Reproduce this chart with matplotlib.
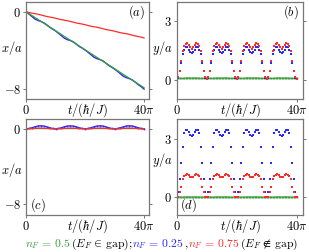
import numpy as np
import matplotlib
matplotlib.use('Agg')
import matplotlib.pyplot as plt

plt.rcParams['mathtext.fontset'] = 'cm'
plt.rcParams['font.family'] = ['DejaVu Serif']

# ---------------- data ----------------
# panels (a),(c): samples every pi, t = 0 .. 40 pi
t_a_steps = list(range(41))
x_green_a = [0, -0.2, -0.39, -0.59, -0.78, -0.98, -1.18, -1.37, -1.57, -1.76,
             -1.96, -2.16, -2.35, -2.55, -2.74, -2.94, -3.14, -3.33, -3.53, -3.72,
             -3.92, -4.12, -4.31, -4.51, -4.7, -4.9, -5.1, -5.29, -5.49, -5.68,
             -5.88, -6.08, -6.27, -6.47, -6.66, -6.86, -7.06, -7.25, -7.45, -7.64, -7.84]
x_blue_a = [0, -0.24, -0.49, -0.75, -0.9, -1.0, -1.14, -1.35, -1.6, -1.79,
            -1.98, -2.22, -2.47, -2.73, -2.88, -2.97, -3.1, -3.33, -3.58, -3.75,
            -3.95, -4.18, -4.43, -4.69, -4.84, -4.93, -5.06, -5.29, -5.54, -5.72,
            -5.92, -6.14, -6.4, -6.66, -6.8, -6.9, -7.03, -7.26, -7.52, -7.72, -7.98]
x_red_a = [0, -0.08, -0.15, -0.2, -0.26, -0.33, -0.41, -0.49, -0.55, -0.6,
           -0.67, -0.75, -0.82, -0.88, -0.93, -1.0, -1.08, -1.16, -1.22, -1.27,
           -1.34, -1.42, -1.5, -1.55, -1.6, -1.67, -1.75, -1.83, -1.89, -1.94,
           -2.01, -2.09, -2.17, -2.22, -2.27, -2.34, -2.42, -2.5, -2.56, -2.62, -2.7]

x_green_c = [0.02, 0.02, 0.02, 0.03, 0.03, 0.03, 0.03, 0.03, 0.02, 0.02,
             0.02, 0.02, 0.02, 0.03, 0.03, 0.03, 0.03, 0.03, 0.02, 0.02,
             0.02, 0.02, 0.02, 0.03, 0.03, 0.03, 0.03, 0.03, 0.02, 0.02,
             0.02, 0.02, 0.02, 0.03, 0.03, 0.03, 0.03, 0.03, 0.02, 0.02, 0.02]
x_blue_c = [0.0, 0.04, 0.12, 0.22, 0.3, 0.33, 0.3, 0.22, 0.12, 0.04,
            0.0, 0.04, 0.12, 0.22, 0.3, 0.32, 0.3, 0.22, 0.12, 0.04,
            0.0, 0.04, 0.12, 0.22, 0.3, 0.33, 0.3, 0.22, 0.12, 0.04,
            0.0, 0.04, 0.12, 0.22, 0.3, 0.33, 0.3, 0.22, 0.12, 0.04, 0.0]
x_red_c = [0.0, 0.01, 0.03, 0.05, 0.07, 0.08, 0.07, 0.05, 0.03, 0.01,
           0.0, 0.01, 0.03, 0.05, 0.07, 0.08, 0.07, 0.05, 0.03, 0.01,
           0.0, 0.01, 0.03, 0.05, 0.07, 0.08, 0.07, 0.05, 0.03, 0.01,
           0.0, 0.01, 0.03, 0.05, 0.07, 0.08, 0.07, 0.05, 0.03, 0.01, 0.0]

# panels (b),(d): samples every pi/2, t = 0 .. 40 pi
t_b_halfsteps = list(range(81))
y_green_b = [0.10, 0.09, 0.07, 0.06, 0.06, 0.07, 0.08, 0.09, 0.09, 0.08,
             0.08, 0.08, 0.09, 0.09, 0.08, 0.07, 0.06, 0.06, 0.07, 0.09,
             0.10, 0.09, 0.07, 0.06, 0.06, 0.07, 0.08, 0.09, 0.09, 0.08,
             0.08, 0.08, 0.09, 0.09, 0.08, 0.07, 0.06, 0.06, 0.07, 0.09,
             0.10, 0.09, 0.07, 0.06, 0.06, 0.07, 0.08, 0.09, 0.09, 0.08,
             0.08, 0.08, 0.09, 0.09, 0.08, 0.07, 0.06, 0.06, 0.07, 0.09,
             0.10, 0.09, 0.07, 0.06, 0.06, 0.07, 0.08, 0.09, 0.09, 0.08,
             0.08, 0.08, 0.09, 0.09, 0.08, 0.07, 0.06, 0.06, 0.07, 0.09, 0.10]
y_blue_b = [0.05, 0.10, 0.45, 0.88, 1.30, 1.55, 1.68, 1.70, 1.55, 1.42,
            1.36, 1.42, 1.55, 1.70, 1.68, 1.55, 1.30, 0.88, 0.45, 0.10,
            0.05, 0.10, 0.45, 0.88, 1.30, 1.55, 1.68, 1.70, 1.55, 1.42,
            1.36, 1.42, 1.55, 1.70, 1.68, 1.55, 1.30, 0.88, 0.45, 0.10,
            0.05, 0.10, 0.45, 0.88, 1.30, 1.55, 1.68, 1.70, 1.55, 1.42,
            1.36, 1.42, 1.55, 1.70, 1.68, 1.55, 1.30, 0.88, 0.45, 0.10,
            0.05, 0.10, 0.45, 0.88, 1.30, 1.55, 1.68, 1.70, 1.55, 1.42,
            1.36, 1.42, 1.55, 1.70, 1.68, 1.55, 1.30, 0.88, 0.45, 0.10, 0.05]
y_red_b = [0.05, 0.12, 0.46, 0.95, 1.45, 1.72, 1.86, 1.90, 1.80, 1.66,
           1.60, 1.66, 1.80, 1.90, 1.86, 1.72, 1.45, 0.95, 0.46, 0.12,
           0.05, 0.12, 0.46, 0.95, 1.45, 1.72, 1.86, 1.90, 1.80, 1.66,
           1.60, 1.66, 1.80, 1.90, 1.86, 1.72, 1.45, 0.95, 0.46, 0.12,
           0.05, 0.12, 0.46, 0.95, 1.45, 1.72, 1.86, 1.90, 1.80, 1.66,
           1.60, 1.66, 1.80, 1.90, 1.86, 1.72, 1.45, 0.95, 0.46, 0.12,
           0.05, 0.12, 0.46, 0.95, 1.45, 1.72, 1.86, 1.90, 1.80, 1.66,
           1.60, 1.66, 1.80, 1.90, 1.86, 1.72, 1.45, 0.95, 0.46, 0.12, 0.05]
y_green_d = [0.03, 0.02, 0.02, 0.01, 0.01, 0.02, 0.02, 0.03, 0.03, 0.02,
             0.02, 0.02, 0.03, 0.03, 0.02, 0.02, 0.01, 0.01, 0.02, 0.02,
             0.03, 0.02, 0.02, 0.01, 0.01, 0.02, 0.02, 0.03, 0.03, 0.02,
             0.02, 0.02, 0.03, 0.03, 0.02, 0.02, 0.01, 0.01, 0.02, 0.02,
             0.03, 0.02, 0.02, 0.01, 0.01, 0.02, 0.02, 0.03, 0.03, 0.02,
             0.02, 0.02, 0.03, 0.03, 0.02, 0.02, 0.01, 0.01, 0.02, 0.02,
             0.03, 0.02, 0.02, 0.01, 0.01, 0.02, 0.02, 0.03, 0.03, 0.02,
             0.02, 0.02, 0.03, 0.03, 0.02, 0.02, 0.01, 0.01, 0.02, 0.02, 0.03]
y_blue_d = [0.00, 0.26, 0.95, 1.75, 2.55, 3.28, 3.42, 3.45, 3.32, 3.20,
            3.15, 3.20, 3.32, 3.45, 3.42, 3.28, 2.55, 1.75, 0.95, 0.26,
            0.00, 0.26, 0.95, 1.75, 2.55, 3.28, 3.42, 3.45, 3.32, 3.20,
            3.15, 3.20, 3.32, 3.45, 3.42, 3.28, 2.55, 1.75, 0.95, 0.26,
            0.00, 0.26, 0.95, 1.75, 2.55, 3.28, 3.42, 3.45, 3.32, 3.20,
            3.15, 3.20, 3.32, 3.45, 3.42, 3.28, 2.55, 1.75, 0.95, 0.26,
            0.00, 0.26, 0.95, 1.75, 2.55, 3.28, 3.42, 3.45, 3.32, 3.20,
            3.15, 3.20, 3.32, 3.45, 3.42, 3.28, 2.55, 1.75, 0.95, 0.26, 0.00]
y_red_d = [0.00, 0.03, 0.26, 0.55, 0.94, 1.08, 1.15, 1.18, 1.12, 1.06,
           1.03, 1.06, 1.12, 1.18, 1.15, 1.08, 0.94, 0.55, 0.26, 0.03,
           0.00, 0.03, 0.26, 0.55, 0.94, 1.08, 1.15, 1.18, 1.12, 1.06,
           1.03, 1.06, 1.12, 1.18, 1.15, 1.08, 0.94, 0.55, 0.26, 0.03,
           0.00, 0.03, 0.26, 0.55, 0.94, 1.08, 1.15, 1.18, 1.12, 1.06,
           1.03, 1.06, 1.12, 1.18, 1.15, 1.08, 0.94, 0.55, 0.26, 0.03,
           0.00, 0.03, 0.26, 0.55, 0.94, 1.08, 1.15, 1.18, 1.12, 1.06,
           1.03, 1.06, 1.12, 1.18, 1.15, 1.08, 0.94, 0.55, 0.26, 0.03, 0.00]

xticks_labels = [r'$0$', r'$40\pi$']
yticks_ac = [0, -8]
yticks_ac_labels = [r'$0$', r'$-8$']
yticks_bd = [0, 3]
yticks_bd_labels = [r'$0$', r'$3$']

GREEN = '#3c9c3c'
BLUE = '#2828ff'
RED = '#ff2a2a'
FRAME = '#777777'

t_a = np.array(t_a_steps) * np.pi
t_b = np.array(t_b_halfsteps) * np.pi / 2

W, H = 309, 252
fig = plt.figure(figsize=(W / 100, H / 100), dpi=100)

def box(l, r, top, bot):
    return [l / W, 1 - bot / H, (r - l) / W, (bot - top) / H]

ax_a = fig.add_axes(box(26, 148.5, 2, 99))
ax_b = fig.add_axes(box(176.7, 303, 2, 99))
ax_c = fig.add_axes(box(26, 148.5, 119, 215))
ax_d = fig.add_axes(box(176.7, 303, 119, 215))

FS = 9

def style(ax, xmax, yticks, ylabels, ylim, ylab, ylab_y):
    ax.set_xlim(0, xmax)
    ax.set_ylim(*ylim)
    ax.set_xticks([0, 40 * np.pi])
    ax.set_xticklabels(xticks_labels, fontsize=FS)
    ax.set_yticks(yticks)
    ax.set_yticklabels(ylabels, fontsize=FS)
    ax.tick_params(direction='out', length=2.5, width=0.7, color=FRAME, pad=1.2,
                   right=True, top=False)
    for s in ax.spines.values():
        s.set_color(FRAME)
        s.set_linewidth(0.9)
    ax.text(-0.03, ylab_y, ylab, transform=ax.transAxes, ha='right', va='center',
            fontsize=FS)
    ax.text(0.5, -0.02, r'$t/(\hbar/J)$', transform=ax.transAxes, ha='center',
            va='top', fontsize=FS)

# (a)
ax_a.plot(t_a, x_red_a, color=RED, lw=0.9)
ax_a.plot(t_a, x_blue_a, color=BLUE, lw=1.0)
ax_a.plot(t_a, x_green_a, color=GREEN, lw=0.9)
style(ax_a, 41.5 * np.pi, yticks_ac, yticks_ac_labels, (-9, 1), r'$x/a$', 0.53)
ax_a.text(0.97, 0.9, r'$(a)$', transform=ax_a.transAxes, ha='right', va='center', fontsize=FS)

# (b)
ax_b.plot(t_b, y_green_b, color=GREEN, lw=0.6, marker='s', ms=1.3, mew=0)
ax_b.plot(t_b, y_blue_b, ls='none', color=BLUE, marker='s', ms=1.5, mew=0)
ax_b.plot(t_b, y_red_b, ls='none', color=RED, marker='s', ms=1.5, mew=0)
style(ax_b, 42 * np.pi, yticks_bd, yticks_bd_labels, (-1, 4), r'$y/a$', 0.53)
ax_b.text(0.97, 0.9, r'$(b)$', transform=ax_b.transAxes, ha='right', va='center', fontsize=FS)

# (c)
ax_c.plot(t_a, x_green_c, color=GREEN, lw=0.9)
ax_c.plot(t_a, x_blue_c, color=BLUE, lw=0.9, marker='s', ms=1.2, mew=0)
ax_c.plot(t_a, x_red_c, color=RED, lw=0.9)
style(ax_c, 41.5 * np.pi, yticks_ac, yticks_ac_labels, (-9.2, 1.05), r'$x/a$', 0.47)
ax_c.text(0.03, 0.1, r'$(c)$', transform=ax_c.transAxes, ha='left', va='center', fontsize=FS)

# (d)
ax_d.plot(t_b, y_green_d, color=GREEN, lw=0.6, marker='s', ms=1.3, mew=0)
ax_d.plot(t_b, y_blue_d, ls='none', color=BLUE, marker='s', ms=1.5, mew=0)
ax_d.plot(t_b, y_red_d, ls='none', color=RED, marker='s', ms=1.5, mew=0)
style(ax_d, 42 * np.pi, yticks_bd, yticks_bd_labels, (-0.9, 4), r'$y/a$', 0.57)
ax_d.text(0.03, 0.1, r'$(d)$', transform=ax_d.transAxes, ha='left', va='center', fontsize=FS)

# multicolour caption line
pieces = [(r'$n_F\,=\,0.5$', GREEN), (r'$(E_F\,\in\,\mathrm{gap});\ $', 'black'),
          (r'$n_F\,=\,0.25$', BLUE), (r'$,\,$', 'black'),
          (r'$n_F\,=\,0.75$', RED), (r'$(E_F\,\notin\,\mathrm{gap})$', 'black')]
CFS = 8.4
fig.canvas.draw()
renderer = fig.canvas.get_renderer()
texts = []
for s, c in pieces:
    texts.append(fig.text(0, 0, s, color=c, fontsize=CFS, ha='left', va='baseline'))
widths = [t.get_window_extent(renderer).width for t in texts]
total = sum(widths)
x0 = (17 + 306) / 2 - total / 2
y_base = 1 - 247 / H
for t, w in zip(texts, widths):
    t.set_position((x0 / W, y_base))
    x0 += w

fig.savefig('out.png', dpi=100)
